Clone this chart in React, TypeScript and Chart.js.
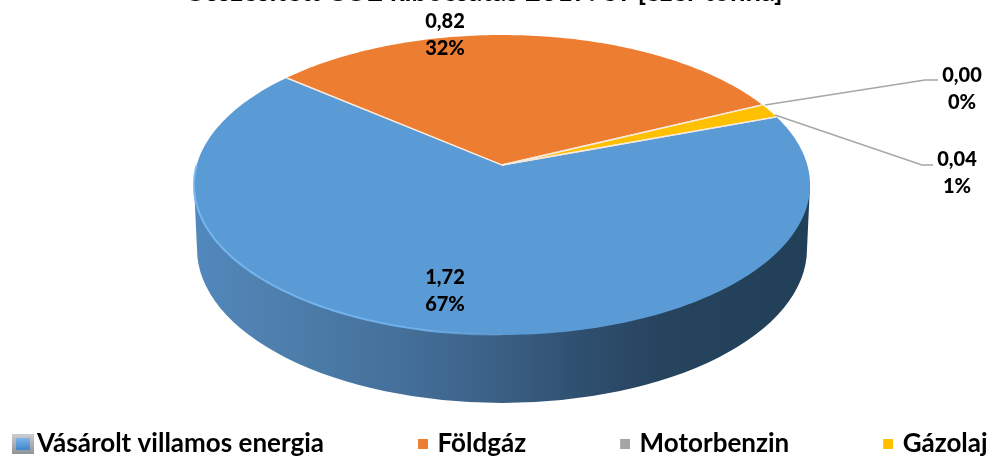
import React, { useEffect, useRef } from "react";
import { Chart, registerables } from "chart.js";

Chart.register(...registerables);

const categories = ["Vásárolt villamos energia", "Földgáz", "Motorbenzin", "Gázolaj"];
const values = [1.72, 0.82, 0.0, 0.04];
const percents = [67, 32, 0, 1];
const colors = ["#5b9bd5", "#ed7d31", "#a5a5a5", "#ffc000"];
const titleText = "Összesített CO2 kibocsátás 2017. év [ezer tonna]";

const FONT = "Lato, Carlito, Calibri, sans-serif";
const OFFSET = 24; // canvas is lifted so that the title is cut by the page edge

// perspective of the pie's top face (page pixels)
const APEX_X = 502;
const APEX_Y = 165 + OFFSET;
const AX = 305.3;
const BY = 147.3;
const K = 0.1333;
const project = (a: number) => {
  const u = Math.cos(a);
  const v = Math.sin(a);
  const w = 1 - K * v;
  return { x: APEX_X + (AX * u) / w, y: APEX_Y + (BY * v) / w };
};

const labelAnchors = [
  { x: 445, y: 278 },
  { x: 445, y: 22 },
  { x: 962, y: 76 },
  { x: 957, y: 160 },
];
const leaders: Record<number, number[][]> = {
  2: [[765, 105], [925, 80], [938, 80]],
  3: [[775, 115], [922, 165], [933, 165]],
};

const fmt = (n: number) => n.toFixed(2).replace(".", ",");

const pie3d = {
  id: "pie3d",
  afterLayout(chart: any) {
    chart.titleBlock.left -= 11;
    chart.titleBlock.right -= 11;
    const lg = chart.legend;
    lg.top = 456 + OFFSET - 25 - lg.options.labels.padding;
    lg.left = 15 - lg.options.labels.padding;
    lg.right = 3000;
  },
  beforeDatasetsDraw(chart: any) {
    const ctx = chart.ctx;
    const arcs = chart.getDatasetMeta(0).data;
    ctx.save();

    // side wall
    const g = ctx.createLinearGradient(194, 0, 810, 0);
    g.addColorStop(0, "#5288bd");
    g.addColorStop(0.12, "#4f80ae");
    g.addColorStop(0.34, "#44709a");
    g.addColorStop(0.5, "#3b5f84");
    g.addColorStop(0.62, "#2f5070");
    g.addColorStop(0.75, "#27445f");
    g.addColorStop(1, "#223f58");
    ctx.beginPath();
    ctx.moveTo(194, 185 + OFFSET);
    ctx.lineTo(197, 249 + OFFSET);
    ctx.ellipse(502, 249 + OFFSET, 305, 154, 0, Math.PI, 0, true);
    ctx.lineTo(810, 185 + OFFSET);
    ctx.closePath();
    ctx.fillStyle = g;
    ctx.fill();

    // top face, one slice per arc element of the doughnut controller
    arcs.forEach((arc: any, i: number) => {
      const { startAngle, endAngle } = arc.getProps(["startAngle", "endAngle"]);
      if (endAngle - startAngle < 1e-4) return;
      ctx.beginPath();
      ctx.moveTo(APEX_X, APEX_Y);
      const n = Math.max(4, Math.ceil((endAngle - startAngle) * 60));
      for (let s = 0; s <= n; s++) {
        const p = project(startAngle + ((endAngle - startAngle) * s) / n);
        ctx.lineTo(p.x, p.y);
      }
      ctx.closePath();
      ctx.fillStyle = colors[i];
      ctx.fill();
    });
    // slice edges
    ctx.strokeStyle = "#f6e9dc";
    ctx.lineWidth = 1.3;
    arcs.forEach((arc: any) => {
      const { startAngle, endAngle } = arc.getProps(["startAngle", "endAngle"]);
      if (endAngle - startAngle < 1e-4) return;
      [startAngle, endAngle].forEach((a: number) => {
        const p = project(a);
        ctx.beginPath();
        ctx.moveTo(APEX_X, APEX_Y);
        ctx.lineTo(p.x, p.y);
        ctx.stroke();
      });
    });

    // rim highlight along the lower left of the blue slice
    const rim = ctx.createLinearGradient(195, 0, 520, 0);
    rim.addColorStop(0, "rgba(120,185,245,0.9)");
    rim.addColorStop(0.7, "rgba(120,185,245,0.8)");
    rim.addColorStop(1, "rgba(120,185,245,0)");
    ctx.strokeStyle = rim;
    ctx.lineWidth = 2;
    ctx.beginPath();
    for (let s = 0; s <= 80; s++) {
      const a = Math.PI - (s / 80) * Math.PI * 0.5;
      const p = project(a);
      if (s === 0) ctx.moveTo(p.x, p.y);
      else ctx.lineTo(p.x, p.y);
    }
    ctx.stroke();
    ctx.restore();
    return false;
  },
  afterDraw(chart: any) {
    const ctx = chart.ctx;
    ctx.save();
    ctx.strokeStyle = "#a6a6a6";
    ctx.lineWidth = 1.4;
    Object.values(leaders).forEach((pts) => {
      ctx.beginPath();
      pts.forEach(([x, y], i) => {
        if (i === 0) ctx.moveTo(x, y + OFFSET);
        else ctx.lineTo(x, y + OFFSET);
      });
      ctx.stroke();
    });
    ctx.fillStyle = "#000";
    ctx.font = `900 20px ${FONT}`;
    ctx.textAlign = "center";
    ctx.textBaseline = "middle";
    values.forEach((v, i) => {
      const a = labelAnchors[i];
      ctx.fillText(fmt(v), a.x, a.y + OFFSET);
      ctx.fillText(`${percents[i]}%`, a.x, a.y + 27 + OFFSET);
    });
    ctx.restore();
  },
};

function makeIcon(i: number) {
  const c = document.createElement("canvas");
  const x = c.getContext("2d")!;
  if (i === 0) {
    c.width = 29;
    c.height = 20;
    const g = x.createLinearGradient(0, 0, 0, 20);
    g.addColorStop(0, "#c9cdd2");
    g.addColorStop(1, "#8f9499");
    x.fillStyle = g;
    x.fillRect(7, 0, 22, 20);
    const b = x.createLinearGradient(0, 4, 0, 16);
    b.addColorStop(0, "#7fb4e6");
    b.addColorStop(1, "#3f86cc");
    x.fillStyle = b;
    x.fillRect(11, 4, 14, 12);
  } else {
    c.width = 16;
    c.height = 10;
    x.fillStyle = colors[i];
    x.fillRect(6, 0, 10, 10);
  }
  return c;
}

export default function App() {
  const ref = useRef<HTMLCanvasElement>(null);
  useEffect(() => {
    const chart = new Chart(ref.current!, {
      type: "pie",
      data: {
        labels: categories,
        datasets: [{ data: values, backgroundColor: colors, borderWidth: 0 }],
      },
      options: {
        responsive: false,
        animation: false,
        rotation: 70,
        plugins: {
          tooltip: { enabled: false },
          title: {
            display: true,
            text: titleText,
            color: "#000",
            font: { family: FONT, size: 27.5, weight: "bold" },
            padding: { top: 0, bottom: 0 },
          },
          legend: {
            position: "bottom",
            align: "start",
            labels: {
              usePointStyle: true,
              boxWidth: 9,
              padding: 91.5,
              color: "#000",
              font: { family: FONT, size: 26, weight: "bold" },
              generateLabels: () =>
                categories.map((t, i) => ({
                  text: t,
                  fillStyle: colors[i],
                  strokeStyle: colors[i],
                  lineWidth: 0,
                  hidden: false,
                  index: i,
                  pointStyle: makeIcon(i),
                })),
            },
          },
        },
      } as any,
      plugins: [pie3d as any],
    });
    return () => chart.destroy();
  }, []);
  return (
    <canvas
      ref={ref}
      width={989}
      height={456 + OFFSET}
      style={{ position: "absolute", left: 0, top: -OFFSET, display: "block", width: 989, height: 456 + OFFSET }}
    />
  );
}
